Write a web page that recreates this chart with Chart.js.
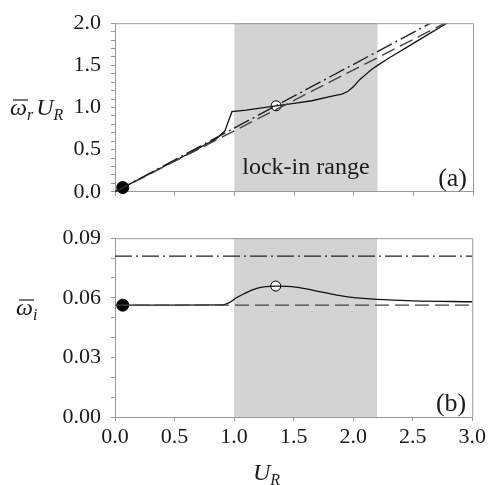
<!DOCTYPE html>
<html>
<head>
<meta charset="utf-8">
<script src="https://cdn.jsdelivr.net/npm/chart.js@4.4.0/dist/chart.umd.min.js"></script>
<style>
  html, body { margin: 0; padding: 0; background: #fff; }
  #wrap { position: relative; width: 489px; height: 485px; }
  #wrap canvas { position: absolute; left: 0; }
  #topChart { top: 0; }
  #botChart { top: 215px; }
</style>
</head>
<body>
<div id="wrap">
  <canvas id="topChart" width="489" height="215"></canvas>
  <canvas id="botChart" width="489" height="270"></canvas>
</div>
<script>
// reduced velocity grid for the straight reference lines
const refU = [0, 3];

// panel (a): real part times U_R
const solidTopU = [0.065, 0.3, 0.6, 0.85, 0.92, 0.98, 1.1, 1.2, 1.35, 1.5, 1.65, 1.8, 1.9, 1.95, 2.0, 2.05, 2.1, 2.15, 2.2, 2.3, 2.5, 2.78, 3.0];
const solidTopV = [0.05, 0.22, 0.44, 0.63, 0.72, 0.95, 0.97, 0.99, 1.02, 1.05, 1.08, 1.13, 1.16, 1.19, 1.25, 1.33, 1.39, 1.45, 1.5, 1.59, 1.76, 2.0, 2.19];
const dashDotTop = [0, 2.27];
const dashedTop = [0, 2.17];

// panel (b): growth rate
const solidBotU = [0.065, 0.5, 0.9, 0.96, 1.02, 1.08, 1.19, 1.35, 1.52, 1.75, 1.97, 2.2, 2.5, 3.0];
const solidBotV = [0.0563, 0.0563, 0.0564, 0.0576, 0.06, 0.0619, 0.0648, 0.0659, 0.0654, 0.0627, 0.0603, 0.0592, 0.0585, 0.058];
const dashDotBot = [0.081, 0.081];
const dashedBot = [0.0563, 0.0563];

// markers
const startU = 0.065;
const startTop = 0.05;
const startBot = 0.0563;
const peakU = 1.35;
const peakTop = 1.02;
const peakBot = 0.0659;

const lockIn = [1.0, 2.2];

const serif = "'Liberation Serif'";

function pairs(xs, ys) {
  return xs.map((x, i) => ({ x: x, y: ys[i] }));
}

// draw a symbol like ω̄_r with optional bar and subscript
function mathText(ctx, x, y, parts) {
  let cx = x;
  parts.forEach(p => {
    const size = p.sub ? 16 : 24;
    ctx.font = 'italic ' + size + 'px ' + serif;
    const w = ctx.measureText(p.t).width;
    const by = p.sub ? y + 5 : y;
    ctx.fillText(p.t, cx, by);
    if (p.bar) {
      ctx.save();
      ctx.lineWidth = 1.2;
      ctx.beginPath();
      ctx.moveTo(cx + 3, by - 15);
      ctx.lineTo(cx + w + 1, by - 15);
      ctx.stroke();
      ctx.restore();
    }
    cx += w + (p.gap || 0);
  });
}

const decor = {
  id: 'decor',
  beforeDraw(chart) {
    const { ctx, chartArea: a, scales: { x } } = chart;
    const x0 = x.getPixelForValue(lockIn[0]);
    const x1 = x.getPixelForValue(lockIn[1]);
    ctx.save();
    ctx.fillStyle = '#d3d3d3';
    ctx.fillRect(x0, a.top, x1 - x0, a.bottom - a.top);
    ctx.restore();
  },
  afterDraw(chart, args, opts) {
    const { ctx, chartArea: a } = chart;
    ctx.save();
    ctx.strokeStyle = '#999';
    ctx.lineWidth = 1;
    ctx.beginPath();
    ctx.moveTo(a.left, a.top + 0.5);
    ctx.lineTo(a.right + 0.5, a.top + 0.5);
    ctx.lineTo(a.right + 0.5, a.bottom);
    ctx.stroke();

    ctx.fillStyle = '#1a1a1a';
    ctx.strokeStyle = '#1a1a1a';
    ctx.textBaseline = 'alphabetic';
    ctx.font = '26px ' + serif;
    ctx.textAlign = 'right';
    ctx.fillText(opts.tag, a.right - 6, a.bottom - 6);

    if (opts.lockLabel) {
      const x = chart.scales.x;
      ctx.font = '24px ' + serif;
      ctx.textAlign = 'center';
      ctx.fillText('lock-in range', (x.getPixelForValue(lockIn[0]) + x.getPixelForValue(lockIn[1])) / 2, a.bottom - 18);
    }

    ctx.textAlign = 'left';
    if (opts.yTitle === 'a') {
      mathText(ctx, 10, 115, [
        { t: 'ω', bar: true },
        { t: 'r', sub: true, gap: 3 },
        { t: 'U' },
        { t: 'R', sub: true }
      ]);
    } else {
      mathText(ctx, 16, 100, [
        { t: 'ω', bar: true },
        { t: 'i', sub: true }
      ]);
      mathText(ctx, 253, 265, [
        { t: 'U' },
        { t: 'R', sub: true }
      ]);
    }
    ctx.restore();
  }
};

function lineSet(data, dash, width, color, smooth) {
  return {
    data: data,
    borderColor: color,
    borderWidth: width,
    borderDash: dash,
    pointRadius: 0,
    fill: false,
    cubicInterpolationMode: smooth ? 'monotone' : 'default',
    tension: 0
  };
}

function markerSet(x, y, fillColor, r) {
  return {
    data: [{ x: x, y: y }],
    showLine: false,
    pointRadius: r,
    pointBackgroundColor: fillColor,
    pointBorderColor: '#000',
    pointBorderWidth: 1,
    clip: false
  };
}

function axisStyle() {
  return {
    grid: { drawOnChartArea: false, tickLength: 4, color: '#999', tickColor: '#999' },
    border: { color: '#999', width: 1 }
  };
}

function makeChart(id, cfg) {
  return new Chart(document.getElementById(id), {
    type: 'line',
    data: { datasets: cfg.datasets },
    options: {
      responsive: false,
      animation: false,
      events: [],
      layout: { padding: { top: cfg.padTop, right: 16, left: 0, bottom: 0 } },
      plugins: {
        legend: { display: false },
        tooltip: { enabled: false },
        decor: cfg.decor
      },
      scales: {
        x: Object.assign(axisStyle(), {
          type: 'linear',
          min: 0,
          max: 3,
          afterFit(s) { s.height = cfg.xHeight; },
          ticks: {
            stepSize: 0.5,
            padding: 3,
            color: '#1a1a1a',
            font: { family: serif, size: 22 },
            maxRotation: 0,
            callback: v => cfg.xLabels ? v.toFixed(1) : ''
          }
        }),
        y: Object.assign(axisStyle(), {
          type: 'linear',
          min: 0,
          max: cfg.yMax,
          afterFit(s) { s.width = 115; },
          ticks: {
            stepSize: cfg.yStep,
            autoSkip: false,
            padding: 10,
            color: '#1a1a1a',
            font: { family: serif, size: 22 },
            callback: v => {
              const k = v / cfg.yMajor;
              return Math.abs(k - Math.round(k)) < 1e-6 ? v.toFixed(cfg.yDigits) : '';
            }
          }
        })
      }
    },
    plugins: [decor]
  });
}

makeChart('topChart', {
  padTop: 14,
  xHeight: 15,
  xLabels: false,
  yMax: 2.0,
  yStep: 0.1,
  yMajor: 0.5,
  yDigits: 1,
  decor: { tag: '(a)', lockLabel: true, yTitle: 'a' },
  datasets: [
    lineSet(pairs(refU, dashDotTop), [17, 4, 2, 4], 1.4, '#222', false),
    lineSet(pairs(refU, dashedTop), [14, 6], 1.4, '#444', false),
    lineSet(pairs(solidTopU, solidTopV), [], 1.3, '#111', false),
    markerSet(startU, startTop, '#000', 6),
    markerSet(peakU, peakTop, '#fff', 5)
  ]
});

makeChart('botChart', {
  padTop: 15,
  xHeight: 68,
  xLabels: true,
  yMax: 0.09,
  yStep: 0.01,
  yMajor: 0.03,
  yDigits: 2,
  decor: { tag: '(b)', lockLabel: false, yTitle: 'b' },
  datasets: [
    lineSet(pairs(refU, dashDotBot), [17, 4, 2, 4], 1.4, '#222', false),
    lineSet(pairs(refU, dashedBot), [14, 6], 1.4, '#444', false),
    lineSet(pairs(solidBotU, solidBotV), [], 1.3, '#111', true),
    markerSet(startU, startBot, '#000', 6),
    markerSet(peakU, peakBot, '#fff', 5)
  ]
});
</script>
</body>
</html>
